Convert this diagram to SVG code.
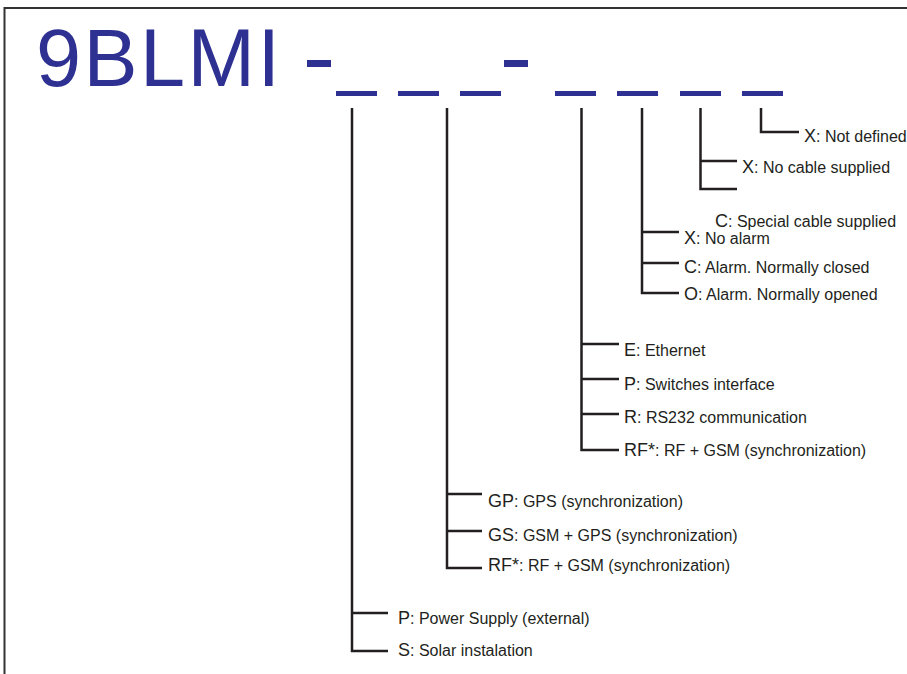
<svg xmlns="http://www.w3.org/2000/svg" width="907" height="674" viewBox="0 0 907 674">
<style>
.frame{stroke:#333;stroke-width:2;fill:none}
.title{font-family:"Liberation Sans",Arial,sans-serif;font-size:81px;fill:#2e3192;letter-spacing:2.5px}
.slot{fill:#2e3192}
.tree{stroke:#231f20;stroke-width:2.5;fill:none;stroke-linecap:butt}
.lbl{font-family:"Liberation Sans",Arial,sans-serif;font-size:16px;fill:#231f20}
.code{font-size:18px}
</style>
<rect width="907" height="674" fill="#fff"/>
<path class="frame" d="M4.5,674 V8 H907"/>
<g id="title"><text class="title" x="36" y="86">9BLMI</text></g>
<g id="code-slots">
<rect class="slot" x="307" y="60" width="24" height="7"/>
<rect class="slot" x="504" y="60" width="24" height="7"/>
<rect class="slot" x="336" y="91" width="41" height="5"/>
<rect class="slot" x="398" y="91" width="41" height="5"/>
<rect class="slot" x="460" y="91" width="41" height="5"/>
<rect class="slot" x="555" y="91" width="41" height="5"/>
<rect class="slot" x="617" y="91" width="41" height="5"/>
<rect class="slot" x="680" y="91" width="41" height="5"/>
<rect class="slot" x="742" y="91" width="41" height="5"/>
</g>
<g id="connectors">
<path class="tree" d="M352,108 V651 H388 M352,613 H388"/>
<path class="tree" d="M447,108 V568 H482 M447,494 H482 M447,531 H482"/>
<path class="tree" d="M581.5,108 V450 H619 M581.5,344 H619 M581.5,379 H619 M581.5,414 H619"/>
<path class="tree" d="M642,108 V293 H679 M642,232 H679 M642,263 H679"/>
<path class="tree" d="M700.5,108 V189 H737 M700.5,161 H737"/>
<path class="tree" d="M761,108 V132 H799"/>
</g>
<g id="opt-6-X"><text class="lbl" x="804" y="142"><tspan class="code">X</tspan>: Not defined</text></g>
<g id="opt-5-X"><text class="lbl" x="742" y="173"><tspan class="code">X</tspan>: No cable supplied</text></g>
<g id="opt-5-C"><text class="lbl" x="715" y="226.5"><tspan class="code">C</tspan>: Special cable supplied</text></g>
<g id="opt-4-X"><text class="lbl" x="684" y="244"><tspan class="code">X</tspan>: No alarm</text></g>
<g id="opt-4-C"><text class="lbl" x="684" y="273"><tspan class="code">C</tspan>: Alarm. Normally closed</text></g>
<g id="opt-4-O"><text class="lbl" x="684" y="300"><tspan class="code">O</tspan>: Alarm. Normally opened</text></g>
<g id="opt-3-E"><text class="lbl" x="624" y="356"><tspan class="code">E</tspan>: Ethernet</text></g>
<g id="opt-3-P"><text class="lbl" x="624" y="390"><tspan class="code">P</tspan>: Switches interface</text></g>
<g id="opt-3-R"><text class="lbl" x="624" y="423"><tspan class="code">R</tspan>: RS232 communication</text></g>
<g id="opt-3-RF"><text class="lbl" x="624" y="456"><tspan class="code">RF*</tspan>: RF + GSM (synchronization)</text></g>
<g id="opt-2-GP"><text class="lbl" x="488" y="507"><tspan class="code">GP</tspan>: GPS (synchronization)</text></g>
<g id="opt-2-GS"><text class="lbl" x="488" y="541"><tspan class="code">GS</tspan>: GSM + GPS (synchronization)</text></g>
<g id="opt-2-RF"><text class="lbl" x="488" y="571"><tspan class="code">RF*</tspan>: RF + GSM (synchronization)</text></g>
<g id="opt-1-P"><text class="lbl" x="398" y="624"><tspan class="code">P</tspan>: Power Supply (external)</text></g>
<g id="opt-1-S"><text class="lbl" x="398" y="656"><tspan class="code">S</tspan>: Solar instalation</text></g>
</svg>
